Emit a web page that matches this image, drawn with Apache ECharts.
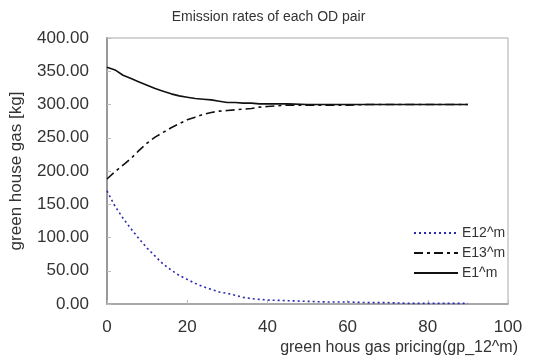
<!DOCTYPE html>
<html><head><meta charset="utf-8">
<script src="https://cdn.jsdelivr.net/npm/echarts@6/dist/echarts.min.js"></script>
<style>html,body{margin:0;padding:0;background:#fff}#c{width:537px;height:357px}</style>
</head><body><div id="c"></div>
<script>
const xValues = [0,2,4,6,8,10,12,14,16,18,20,22,24,26,28,30,32,34,36,38,40,45,50,55,60,65,70,75,80,85,90];
const e12 = [170,147,129,113,98,84,72,60,51,43,37,31,26,22,18,16,13,10,8,7,6,5,4,3,3,2,2,1,1,1,1];
const e13 = [188,199,209,219,231,242,251,258,265,271,277,281,285,288,290,291,292,293,294,296,297,299,299,299,299,300,300,300,300,300,300];
const e1 = [356,352,344,339,334,329,324,320,316,313,311,309,308,307,305,303,303,302,302,301,301,301,300,300,300,300,300,300,300,300,300];
const seriesNames = ['E12^m','E13^m','E1^m'];
const titleText = 'Emission rates of each OD pair';
const xName = 'green hous gas pricing(gp_12^m)';
const yName = 'green house gas [kg]';

const pair = arr => xValues.map((x,i)=>[x,arr[i]]);
const font = '"Liberation Sans", Arial, sans-serif';
const chart = echarts.init(document.getElementById('c'), null, {renderer:'canvas'});
chart.setOption({
  animation:false,
  backgroundColor:'#fff',
  title:{text:titleText,left:'center',top:5,textStyle:{fontFamily:font,fontSize:14,fontWeight:'normal',color:'#333'}},
  grid:{left:104,right:29,top:38,bottom:53,show:true,borderColor:'#aaa',borderWidth:1},
  legend:{
    left:408,top:221,orient:'vertical',itemWidth:44,itemHeight:12,itemGap:6,
    itemStyle:{opacity:0},
    textStyle:{fontFamily:font,fontSize:14,color:'#333',padding:[0,0,0,-1]},
    data:seriesNames
  },
  xAxis:{
    type:'value',min:0,max:100,interval:20,
    name:xName,nameLocation:'end',nameGap:10,
    nameTextStyle:{fontFamily:font,fontSize:16,color:'#333',align:'right',verticalAlign:'top',padding:[36,0,0,0]},
    axisLine:{show:true,lineStyle:{color:'#999',width:1.5}},
    axisTick:{show:true,inside:true,length:4,lineStyle:{color:'#bbb'}},
    axisLabel:{fontFamily:font,fontSize:17,color:'#333',margin:15},
    splitLine:{show:false}
  },
  yAxis:{
    type:'value',min:0,max:400,interval:50,
    name:yName,nameLocation:'middle',nameGap:82,
    nameTextStyle:{fontFamily:font,fontSize:17,color:'#333'},
    axisLine:{show:true,lineStyle:{color:'#999',width:2}},
    axisTick:{show:true,inside:true,length:4,lineStyle:{color:'#bbb'}},
    axisLabel:{fontFamily:font,fontSize:17,color:'#333',margin:18,formatter:v=>v.toFixed(2)},
    splitLine:{show:false}
  },
  series:[
    {name:seriesNames[0],type:'line',data:pair(e12),symbol:'none',smooth:false,
     lineStyle:{color:'#2a2ab0',width:1.6,type:[2,3]},itemStyle:{color:'#2a2ab0'}},
    {name:seriesNames[1],type:'line',data:pair(e13),symbol:'none',
     lineStyle:{color:'#111',width:1.6,type:[9,4,3,4]},itemStyle:{color:'#111'}},
    {name:seriesNames[2],type:'line',data:pair(e1),symbol:'none',
     lineStyle:{color:'#111',width:1.6,type:'solid'},itemStyle:{color:'#111'}}
  ]
});
</script></body></html>
